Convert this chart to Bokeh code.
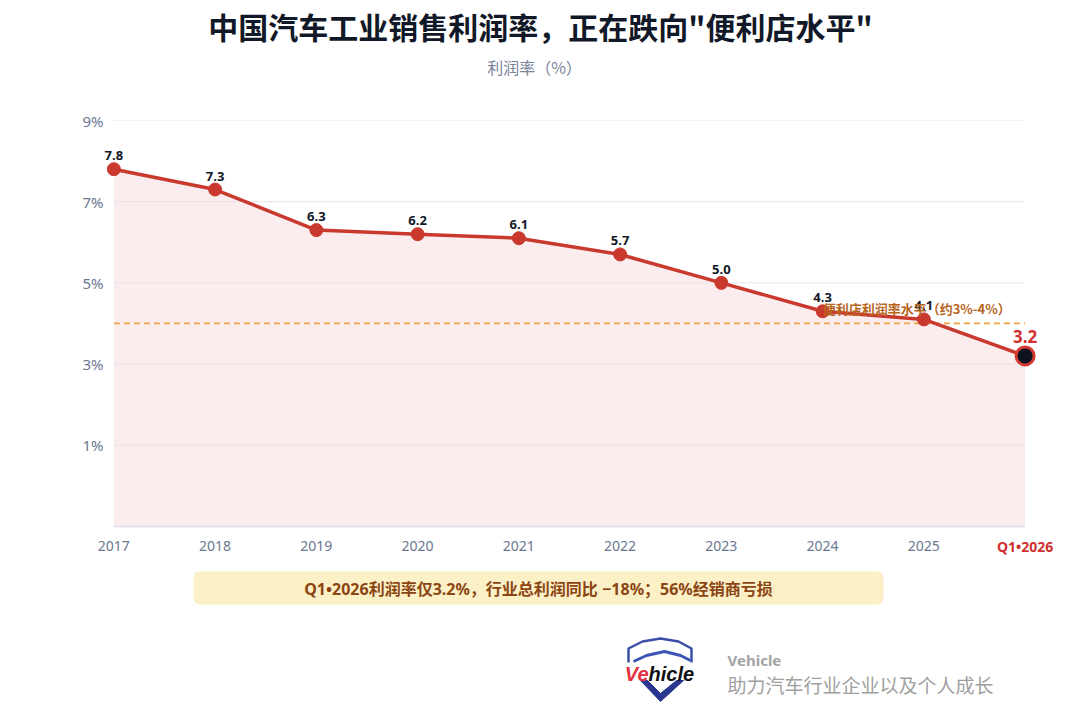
from bokeh.plotting import figure
from bokeh.layouts import column
from bokeh.models import (Range1d, FixedTicker, PrintfTickFormatter, Label,
                          LabelSet, ColumnDataSource, BoxAnnotation)
from bokeh.core.properties import value
from bokeh.embed import file_html
from bokeh.resources import INLINE

# ---------------- data ----------------
categories = ["2017", "2018", "2019", "2020", "2021", "2022", "2023", "2024", "2025", "Q1•2026"]
margin = [7.8, 7.3, 6.3, 6.2, 6.1, 5.7, 5.0, 4.3, 4.1, 3.2]
y_ticks = [1, 3, 5, 7, 9]
store_level = 4.0
title_text = '中国汽车工业销售利润率，正在跌向"便利店水平"'
subtitle_text = "利润率（%）"
store_label = "便利店利润率水平（约3%-4%）"
note_text = "Q1•2026利润率仅3.2%，行业总利润同比 −18%；56%经销商亏损"
brand = "Vehicle"
slogan = "助力汽车行业企业以及个人成长"

CJK = "Noto Sans CJK SC"
NUM = "Noto Sans"
MIX = "'Noto Sans', 'Noto Sans CJK SC'"
RED = "#c9392e"
W = 1072
BL, BR = 83, 17          # identical side borders so the column keeps frames aligned
FX0, FX1 = BL, W - BR    # frame extent in page pixels

xs = list(range(len(categories)))
n = len(categories)

# ---------------- header ----------------
h = figure(width=W, height=100, x_range=Range1d(FX0, FX1), y_range=Range1d(100, 0),
           output_backend="svg", toolbar_location=None,
           x_axis_location=None, y_axis_location=None,
           min_border_left=BL, min_border_right=BR, min_border_top=0, min_border_bottom=0)
h.grid.visible = False
h.outline_line_color = None
h.text(x=[540], y=[25], text=[title_text], text_font=value(CJK), text_font_size="30px",
       text_font_style="bold", text_color="#111827", text_align="center", text_baseline="middle")
h.text(x=[534], y=[66], text=[subtitle_text], text_font=value(CJK), text_font_size="16px",
       text_color="#7a8499", text_align="center", text_baseline="middle")

# ---------------- main chart ----------------
base = -1
p = figure(width=W, height=460, x_range=Range1d(-0.3, n - 1 + 0.3), y_range=Range1d(-1.84, 9),
           output_backend="svg", toolbar_location=None, x_axis_location=None,
           min_border_left=BL, min_border_right=BR, min_border_top=20, min_border_bottom=0)
p.outline_line_color = None
p.grid.visible = False

p.yaxis.ticker = FixedTicker(ticks=y_ticks)
p.yaxis.formatter = PrintfTickFormatter(format="%d%%")
p.yaxis.axis_line_color = None
p.yaxis.major_tick_line_color = None
p.yaxis.minor_tick_line_color = None
p.yaxis.major_label_standoff = -26
p.yaxis.major_label_text_font = NUM
p.yaxis.major_label_text_font_size = "15px"
p.yaxis.major_label_text_color = "#6b7790"

# area, grid lines, baseline, reference line
p.varea(x=xs, y1=[base] * n, y2=margin, fill_color="#d0393b", fill_alpha=0.09)
p.segment(x0=[xs[0]] * len(y_ticks), x1=[xs[-1]] * len(y_ticks), y0=y_ticks, y1=y_ticks,
          line_color="#e9e2ea", line_width=1)
p.segment(x0=[xs[0]], x1=[xs[-1]], y0=[base], y1=[base], line_color="#e6e2ec", line_width=2)
p.segment(x0=[xs[0]], x1=[xs[-1]], y0=[store_level], y1=[store_level], line_color="#eda33f",
          line_dash="6 4", line_width=1.8)

p.line(xs, margin, line_color=RED, line_width=3.5)
p.scatter(xs[:-1], margin[:-1], size=13, fill_color=RED, line_color=RED)
p.scatter(xs[-1:], margin[-1:], size=18, fill_color="#0d1220", line_color="#d33a32", line_width=3)

src = ColumnDataSource(dict(x=xs[:-1], y=margin[:-1], t=[f"{v:.1f}" for v in margin[:-1]]))
p.add_layout(LabelSet(x="x", y="y", text="t", source=src, y_offset=9, text_font=value(NUM),
                      text_font_size="13px", text_font_style="bold", text_color="#111827",
                      text_align="center", text_baseline="bottom"))
p.add_layout(Label(x=xs[-1], y=margin[-1], y_offset=13, text=f"{margin[-1]:.1f}", text_font=NUM,
                   text_font_size="17px", text_font_style="bold", text_color="#d03030",
                   text_align="center", text_baseline="bottom"))
p.add_layout(Label(x=7, y=store_level, y_offset=5, text=store_label, text_font=CJK,
                   text_font_size="13px", text_font_style="bold", text_color="#b8651c",
                   text_align="left", text_baseline="bottom"))

# category labels under the baseline
csrc = ColumnDataSource(dict(x=xs[:-1], y=[base] * (n - 1), t=categories[:-1]))
p.add_layout(LabelSet(x="x", y="y", text="t", source=csrc, y_offset=-20, text_font=value(NUM),
                      text_font_size="14px", text_color="#6b7790",
                      text_align="center", text_baseline="middle"))
p.add_layout(Label(x=xs[-1], y=base, y_offset=-20, text=categories[-1], text_font=NUM,
                   text_font_size="14px", text_font_style="bold", text_color="#d03030",
                   text_align="center", text_baseline="middle"))

# ---------------- footer ----------------
f = figure(width=W, height=147, x_range=Range1d(FX0, FX1), y_range=Range1d(707, 560),
           output_backend="svg", toolbar_location=None,
           x_axis_location=None, y_axis_location=None,
           min_border_left=BL, min_border_right=BR, min_border_top=0, min_border_bottom=0)
f.grid.visible = False
f.outline_line_color = None
f.add_layout(BoxAnnotation(left=193, right=883, top=571, bottom=604, fill_color="#fcf0c6",
                           fill_alpha=1, line_color=None, border_radius=6, level="underlay"))
f.text(x=[538], y=[588], text=[note_text], text_font=value(MIX), text_font_size="16px",
       text_font_style="bold", text_color="#8b4513", text_align="center", text_baseline="middle")

# logo
f.line([628, 628, 642, 660, 678, 691, 691], [662, 648, 641, 638, 641, 648, 662],
       line_color="#3b4fa8", line_width=2.5)
f.line([633, 646, 664, 680, 690], [661, 655, 651, 655, 660], line_color="#3b55b5", line_width=3)
f.patch([640, 660, 683, 676, 660, 647], [680, 701, 680, 680, 693, 680],
        fill_color="#2a3590", line_color="#2a3590")
f.text(x=[648], y=[673], text=["Ve"], text_font=value("Liberation Sans"), text_font_size="20px",
       text_font_style="bold italic", text_color="#e5303f", text_align="right", text_baseline="middle")
f.text(x=[648], y=[673], text=["hicle"], text_font=value("Liberation Sans"), text_font_size="20px",
       text_font_style="bold italic", text_color="#111111", text_align="left", text_baseline="middle")

f.text(x=[727], y=[659], text=[brand], text_font=value(NUM), text_font_size="15px",
       text_font_style="bold", text_color="#a3a3a3", text_align="left", text_baseline="middle")
f.text(x=[727], y=[684], text=[slogan], text_font=value(CJK), text_font_size="19px",
       text_color="#a0a0a0", text_align="left", text_baseline="middle")

layout = column(h, p, f, spacing=0)
open("out.html", "w").write(file_html(layout, INLINE))
